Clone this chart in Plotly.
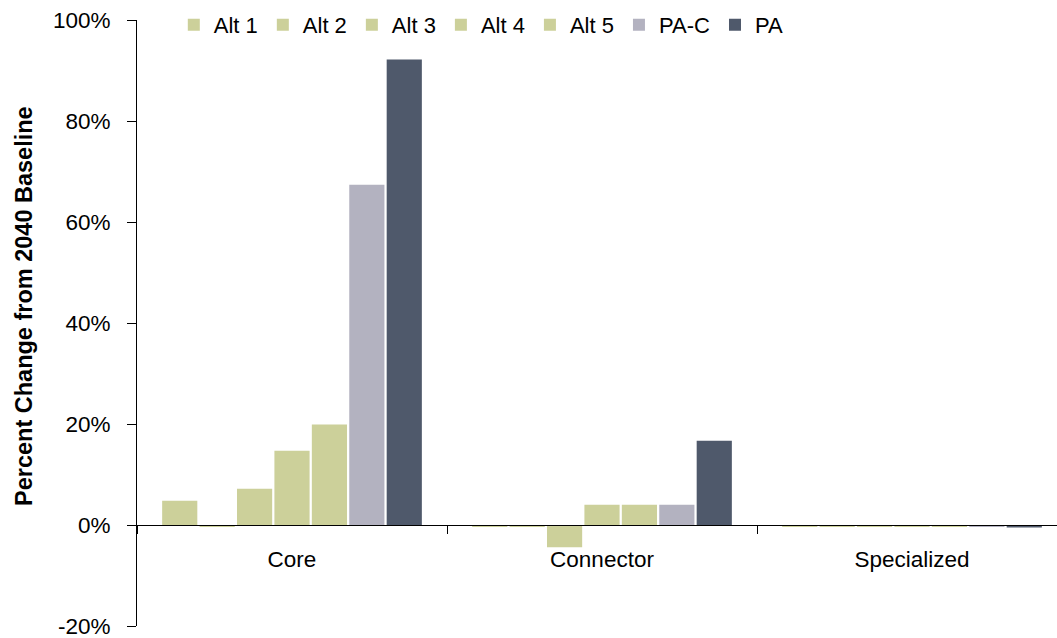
import plotly.graph_objects as go

categories = ["Core", "Connector", "Specialized"]
series_names = ["Alt 1", "Alt 2", "Alt 3", "Alt 4", "Alt 5", "PA-C", "PA"]
alt1 = [4.8, -0.4, -0.4]
alt2 = [-0.4, -0.4, -0.4]
alt3 = [7.2, -4.4, -0.4]
alt4 = [14.7, 4.0, -0.4]
alt5 = [19.9, 4.0, -0.4]
pac = [67.4, 4.0, -0.4]
pa = [92.2, 16.7, -0.5]
y_ticks = [-20, 0, 20, 40, 60, 80, 100]
y_tick_labels = ["-20%", "0%", "20%", "40%", "60%", "80%", "100%"]

series_values = [alt1, alt2, alt3, alt4, alt5, pac, pa]
green = "rgb(204,208,154)"
colors = [green, green, green, green, green, "rgb(179,178,192)", "rgb(79,89,107)"]

FONT = "Arial, Liberation Sans, sans-serif"

fig = go.Figure()
for name, vals, col in zip(series_names, series_values, colors):
    fig.add_trace(go.Bar(name=name, x=categories, y=vals, marker=dict(color=col, line=dict(width=0))))

W, H = 1057, 638
ml, mt, mb, mr = 137, 20, 12, 0
plot_w = W - ml - mr
plot_h = H - mt - mb
cat_px = 310

fig.update_layout(
    width=W, height=H, autosize=False,
    margin=dict(l=ml, r=mr, t=mt, b=mb, pad=0),
    paper_bgcolor="white", plot_bgcolor="white",
    barmode="group", bargap=0.155, bargroupgap=0.06,
    font=dict(family=FONT, size=22, color="black"),
    showlegend=True,
    legend=dict(orientation="h", x=0.040, y=1 - 5 / plot_h, xanchor="left", yanchor="middle",
                bgcolor="rgba(0,0,0,0)", font=dict(size=22, family=FONT), traceorder="normal"),
    xaxis=dict(type="category", range=[-0.5, -0.5 + plot_w / cat_px], anchor="free",
               position=20 / 120, showline=True, linecolor="black", linewidth=1.3,
               ticks="outside", tickson="boundaries", ticklen=8, tickcolor="black",
               showgrid=False, zeroline=False, ticklabelstandoff=14,
               tickfont=dict(size=22.5, family=FONT)),
    yaxis=dict(range=[-20, 100], tickvals=y_ticks, ticktext=y_tick_labels, showline=True,
               linecolor="black", linewidth=1, ticks="outside", ticklen=9, tickcolor="black",
               showgrid=False, zeroline=False, ticklabelstandoff=12, ticklabeloverflow="allow",
               tickfont=dict(size=22.5, family=FONT)),
    annotations=[dict(text="<b>Percent Change from 2040 Baseline</b>", textangle=-90,
                      xref="paper", yref="paper", x=-(ml - 24) / plot_w, y=1 - (306 - mt) / plot_h,
                      xanchor="center", yanchor="middle", showarrow=False,
                      font=dict(size=23.5, family=FONT, color="black"))],
)

fig.write_html("out.html", config={"displayModeBar": False},
               post_script="document.body.style.margin='0';document.body.style.overflow='hidden';")
